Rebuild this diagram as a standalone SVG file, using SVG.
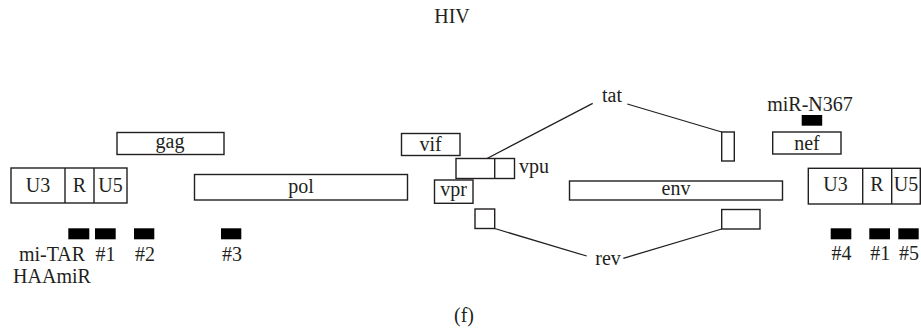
<svg xmlns="http://www.w3.org/2000/svg" width="921" height="329" viewBox="0 0 921 329">
<style>
text{font-family:"Liberation Serif","Times New Roman",serif;font-size:20px;fill:#231f20;text-anchor:middle}
.b{fill:#fff;stroke:#231f20;stroke-width:1.4}
.d{stroke:#231f20;stroke-width:1.4}
.bar{fill:#000}
.ln{fill:none;stroke:#231f20;stroke-width:1.3}
</style>
<rect width="921" height="329" fill="#fff"/>
<text x="452" y="23">HIV</text>
<g id="ltr5">
<rect class="b" x="11" y="168" width="116" height="35"/>
<line class="d" x1="65" y1="168" x2="65" y2="203"/>
<line class="d" x1="94" y1="168" x2="94" y2="203"/>
<text x="38" y="192">U3</text><text x="79.5" y="192">R</text><text x="110.5" y="192">U5</text>
</g>
<g id="gag"><rect class="b" x="117" y="132.5" width="107" height="22"/><text x="170" y="148">gag</text></g>
<g id="pol"><rect class="b" x="194.5" y="174.5" width="213" height="25.5"/><text x="301" y="193">pol</text></g>
<g id="vif"><rect class="b" x="401.5" y="133.5" width="58.5" height="22"/><text x="430.5" y="150.5">vif</text></g>
<g id="vpu"><rect class="b" x="456" y="158.5" width="58.5" height="20"/><line class="d" x1="494.7" y1="158.5" x2="494.7" y2="178.5"/><text x="519" y="173" style="text-anchor:start">vpu</text></g>
<g id="vpr"><rect class="b" x="434.5" y="180" width="38.5" height="23.3"/><text x="453.7" y="196">vpr</text></g>
<g id="rev1"><rect class="b" x="475" y="209" width="19.7" height="19.5"/></g>
<g id="env"><rect class="b" x="569.5" y="181" width="213" height="19"/><text x="676" y="195">env</text></g>
<g id="tat2"><rect class="b" x="721.7" y="132" width="12.6" height="29"/></g>
<g id="rev2"><rect class="b" x="721.7" y="209.5" width="38.3" height="19.5"/></g>
<g id="nef"><rect class="b" x="772.7" y="132" width="68.3" height="22"/><text x="807" y="150">nef</text></g>
<g id="tat"><text x="612" y="101.5">tat</text></g>
<g id="rev"><text x="608" y="265">rev</text></g>
<g id="mirN367"><rect class="bar" x="801.7" y="115" width="20.5" height="10.7"/><text x="810" y="111">miR-N367</text></g>
<g id="ltr3">
<rect class="b" x="808.3" y="168.3" width="112" height="35.7"/>
<line class="d" x1="862.7" y1="168.3" x2="862.7" y2="204"/>
<line class="d" x1="891.7" y1="168.3" x2="891.7" y2="204"/>
<text x="835.5" y="191">U3</text><text x="877" y="191">R</text><text x="906" y="191">U5</text>
</g>
<g id="sites">
<rect class="bar" x="68.3" y="228.3" width="21" height="11"/>
<rect class="bar" x="95" y="228.3" width="20.7" height="11"/>
<rect class="bar" x="134" y="228.3" width="20.3" height="11"/>
<rect class="bar" x="221" y="228.3" width="20.3" height="11"/>
<rect class="bar" x="830.7" y="228.3" width="20.6" height="11"/>
<rect class="bar" x="869.3" y="228.3" width="20.7" height="11"/>
<rect class="bar" x="898.3" y="228.3" width="20.4" height="11"/>
<text x="52" y="261">mi-TAR</text>
<text x="52" y="283">HAAmiR</text>
<text x="105.5" y="261">#1</text>
<text x="145" y="261">#2</text>
<text x="232" y="261">#3</text>
<text x="841.5" y="260">#4</text>
<text x="880.3" y="260">#1</text>
<text x="909" y="260">#5</text>
</g>
<g id="connectors">
<line class="ln" x1="592.7" y1="103.3" x2="487" y2="158.5"/>
<line class="ln" x1="627.3" y1="104" x2="721.7" y2="132"/>
<line class="ln" x1="494.7" y1="228.5" x2="586.7" y2="256"/>
<line class="ln" x1="623.3" y1="258.3" x2="721.7" y2="229"/>
</g>
<text x="464" y="322">(f)</text>
</svg>
